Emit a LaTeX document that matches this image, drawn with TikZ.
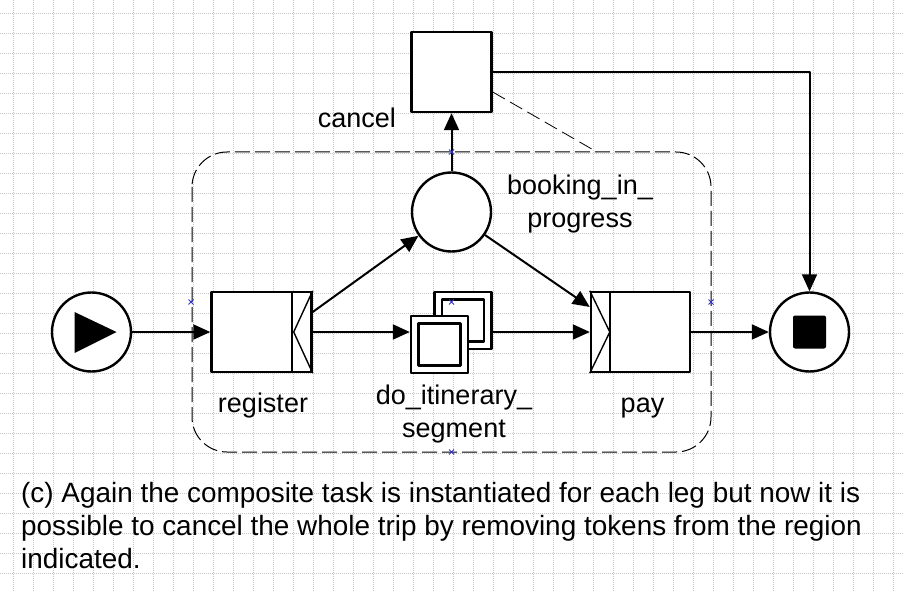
\documentclass[tikz,border=0pt]{standalone}
\usepackage{fontspec}
\setmainfont{Liberation Sans}
\usetikzlibrary{arrows.meta}

\tikzset{
  gridline/.style={draw=black!22, line width=0.8pt, dash pattern=on 1pt off 1pt},
  yawl/.style={draw, line width=2.4pt, fill=white, inner sep=0pt},
  task/.style={yawl, rectangle, minimum width=100pt, minimum height=80pt},
  event/.style={yawl, circle, minimum size=79pt},
  mibox/.style={yawl, rectangle, minimum size=57pt},
  miinner/.style={yawl, rectangle, minimum size=42pt},
  deco/.style={line width=1.4pt},
  flow/.style={line width=2pt, -{Triangle[length=17pt,width=15pt]}},
  region/.style={line width=1pt, dash pattern=on 15pt off 5pt, rounded corners=35pt},
  cancellink/.style={line width=0.8pt, dash pattern=on 14pt off 6pt},
  handle/.style={draw=blue!60!gray, line width=0.8pt},
  lbl/.style={font=\fontsize{27}{33}\selectfont, inner sep=0pt}
}

\begin{document}
\begin{tikzpicture}[x=1pt, y=-1pt, line join=round]
\useasboundingbox (0,0) rectangle (903,591);
% grid
\foreach \gx in {13,33,...,893}
    \draw[gridline] (\gx,0) -- (\gx,591);
\foreach \gy in {13,33,...,573}
    \draw[gridline] (0,\gy) -- (903,\gy);

% cancellation region
\draw[region] (192,152) rectangle (711,452);
\coordinate (regtop) at (597,152);

% start and end
\node[event] (start) at (91.5,332) {};
\fill (start) ++(-17,-20) -- ++(42,20) -- ++(-42,21) -- cycle;
\node[event] (end) at (809.5,332) {};
\fill[rounded corners=2pt] (end) ++(-16.5,-16.5) rectangle ++(33,33);

% tasks
\node[task] (register) at (261.5,332) {};
\draw[line width=2.4pt] ([xshift=-21pt]register.north east) -- ([xshift=-21pt]register.south east);
\draw[deco] (register.north east) -- ([xshift=-19pt]register.east) -- (register.south east);

\node[task, minimum width=99pt] (pay) at (640.5,332) {};
\draw[line width=2.4pt] ([xshift=20pt]pay.north west) -- ([xshift=20pt]pay.south west);
\draw[deco] (pay.north west) -- ([xshift=20pt]pay.west) -- (pay.south west);

\node[task, minimum width=80pt] (cancel) at (451.5,72) {};
\node[event] (cond) at (451.5,212) {};

% composite multiple instance task
\node[mibox] (backbox) at (463,320.5) {};
\node[miinner] (backin) at (backbox) {};
\node[mibox] (frontbox) at (439.5,344.5) {};
\node[miinner] (frontin) at (frontbox) {};

% flows
\draw[flow] (start) -- (register);
\draw[flow] (register.east) -- (register.east -| frontbox.west);
\draw[flow] ([yshift=20pt]register.east) -- (cond);
\draw[flow] (backbox.east |- pay.west) -- (pay.west);
\draw[flow] (cond) -- ([yshift=25pt]pay.west);
\draw[flow] (pay) -- (end);
\draw[flow] (cond) -- (cancel);
\draw[flow] (cancel.east) -| (end.north);
\draw[cancellink] ([yshift=-20pt]cancel.east) -- (regtop);

\foreach \p in {(191,302),(451.5,152),(711,302),(451.5,452),(451.5,302)}
    \draw[handle] \p +(-2.5,-2.5) -- +(2.5,2.5) +(-2.5,2.5) -- +(2.5,-2.5);

% labels
\node[lbl, anchor=base east] (cancellbl) at (396,128) {cancel};
\node[lbl, anchor=base, align=center] (condlbl) at (580,227) {booking\_in\_\\progress};
\node[lbl, anchor=base] (registerlbl) at (263,412) {register};
\node[lbl, anchor=base, align=center] (itinlbl) at (454,437) {do\_itinerary\_\\segment};
\node[lbl, anchor=base] (paylbl) at (642.5,412) {pay};

\node[lbl, font=\fontsize{27.9}{33}\selectfont, anchor=north west, align=left] (caption) at (21,482)
    {(c) Again the composite task is instantiated for each leg but now it is\\
     possible to cancel the whole trip by removing tokens from the region\\
     indicated.};
\end{tikzpicture}
\end{document}
